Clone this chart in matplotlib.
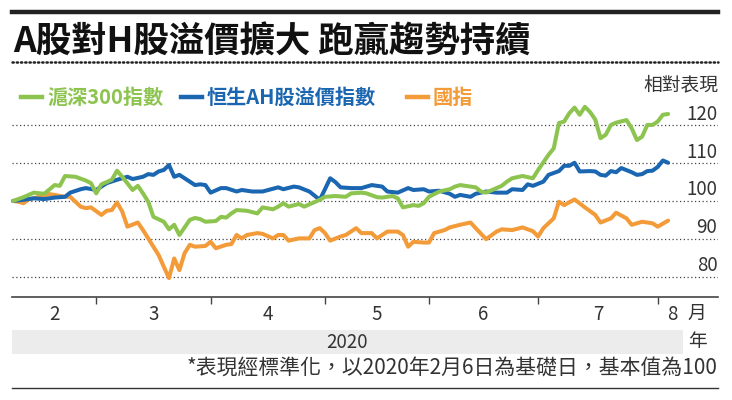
import matplotlib
matplotlib.use('Agg')
import matplotlib.pyplot as plt
from matplotlib.lines import Line2D
from matplotlib.patches import Rectangle
from matplotlib.transforms import blended_transform_factory

plt.rcParams['font.family'] = ['Noto Sans CJK TC', 'DejaVu Sans']

# data: x = trading-day index counted from 2020-02-06 (base = 100)
csi_day = [0, 2, 4, 6, 8, 9, 10, 12, 14, 15, 16, 17, 19, 20, 21, 23, 24, 25, 26, 27,
           29, 30, 31, 32, 34, 35, 36, 37, 39, 40, 41, 42, 43, 45, 47, 48, 50, 51, 52, 53,
           55, 56, 57, 59, 60, 62, 64, 65, 67, 68, 70, 71, 73, 74, 75, 77, 78, 79, 80, 82,
           84, 85, 86, 88, 89, 90, 91, 93, 94, 95, 96, 98, 100, 101, 103, 104, 105, 106, 107, 108,
           109, 110, 111, 112, 113, 114, 115, 116, 118, 119, 120, 121, 122, 123, 124, 125, 126]
csi_val = [100.0, 101.0, 102.2, 101.9, 104.2, 104.0, 106.6, 106.4, 105.4, 104.7, 102.0, 104.4, 105.6, 108.0, 106.4, 102.9, 104.0, 102.0, 99.8, 95.8,
           94.5, 92.5, 93.7, 91.0, 95.0, 95.5, 95.2, 94.5, 94.7, 95.8, 95.6, 96.7, 97.6, 97.4, 96.7, 98.3, 97.8, 98.5, 99.4, 98.5,
           99.2, 98.5, 99.1, 100.3, 101.1, 101.3, 101.1, 102.0, 102.2, 102.0, 101.0, 100.9, 101.3, 100.7, 98.3, 98.9, 98.7, 99.4, 101.1, 102.5,
           103.1, 103.8, 104.2, 103.8, 103.6, 102.5, 102.2, 103.4, 104.0, 105.1, 106.0, 106.6, 106.0, 108.2, 112.2, 113.9, 120.6, 121.0, 123.2, 124.7,
           122.8, 124.9, 123.5, 121.5, 116.6, 117.5, 120.1, 120.7, 121.4, 119.2, 116.1, 117.0, 120.1, 120.1, 121.0, 122.8, 123.0]

ah_day = [0, 2, 4, 6, 8, 10, 11, 13, 14, 16, 17, 18, 20, 22, 23, 25, 26, 27, 28, 29,
          30, 31, 32, 33, 35, 36, 37, 38, 40, 41, 43, 44, 46, 48, 51, 52, 54, 55, 57, 59,
          60, 61, 62, 63, 65, 67, 68, 69, 71, 72, 74, 76, 77, 79, 80, 82, 84, 85, 86, 88,
          89, 91, 93, 95, 96, 98, 99, 100, 102, 103, 105, 106, 107, 108, 109, 111, 112, 113, 114, 115,
          116, 117, 119, 120, 121, 122, 123, 124, 125, 126]
ah_val = [100.0, 100.3, 100.7, 100.5, 100.9, 101.1, 102.2, 103.1, 103.4, 102.9, 103.8, 104.7, 105.6, 106.4, 105.8, 106.4, 107.1, 106.9, 107.8, 108.2,
          109.5, 106.4, 106.9, 106.0, 104.2, 104.4, 104.2, 102.2, 103.4, 103.4, 102.5, 102.9, 102.5, 102.5, 103.6, 103.1, 103.8, 103.6, 102.5, 100.3,
          103.1, 106.0, 105.0, 103.6, 103.4, 103.4, 103.8, 104.2, 103.8, 102.5, 102.2, 103.4, 102.9, 103.1, 102.5, 102.7, 101.9, 101.1, 101.6, 101.1,
          101.9, 102.5, 102.2, 102.2, 103.1, 102.9, 104.4, 104.0, 105.1, 106.9, 107.9, 109.3, 109.3, 110.1, 107.8, 107.9, 107.8, 106.9, 106.7, 107.9,
          107.6, 108.7, 107.6, 106.9, 107.1, 107.9, 108.0, 109.0, 110.7, 110.1]

hsce_day = [0, 1, 2, 3, 5, 7, 8, 10, 11, 12, 13, 14, 15, 17, 18, 19, 20, 21, 22, 24,
            25, 26, 27, 28, 29, 30, 31, 32, 33, 34, 35, 37, 38, 39, 41, 42, 43, 44, 45, 47,
            48, 50, 51, 52, 53, 55, 57, 58, 59, 60, 61, 63, 64, 65, 66, 67, 69, 70, 72, 74,
            75, 76, 77, 79, 80, 81, 83, 84, 86, 88, 89, 91, 93, 94, 96, 98, 100, 101, 102, 104,
            105, 106, 108, 110, 112, 113, 115, 116, 118, 119, 121, 123, 124, 126]
hsce_val = [100.0, 99.8, 99.4, 100.4, 101.1, 101.8, 101.6, 101.1, 101.1, 99.8, 98.5, 98.1, 98.3, 96.3, 97.4, 97.6, 99.6, 97.2, 93.2, 94.3,
            92.3, 90.1, 87.9, 85.7, 82.6, 79.6, 84.8, 81.7, 86.2, 88.4, 87.9, 88.1, 89.2, 87.5, 88.4, 88.6, 91.0, 90.1, 91.0, 91.5,
            91.3, 90.1, 91.0, 91.0, 89.5, 90.1, 90.1, 92.3, 92.8, 91.5, 89.5, 90.6, 91.0, 91.9, 92.8, 91.5, 91.5, 90.1, 91.9, 91.9,
            91.0, 87.9, 89.2, 89.0, 89.0, 91.5, 92.3, 93.0, 93.7, 94.3, 92.8, 89.9, 91.9, 92.5, 92.3, 93.0, 92.0, 90.6, 92.8, 95.4,
            99.8, 98.9, 100.4, 98.3, 96.3, 94.3, 95.4, 96.9, 95.4, 93.7, 94.5, 94.1, 93.2, 94.8]

series_names = ['滬深300指數', '恒生AH股溢價指數', '國指']
series_colors = ['#8dc450', '#1b66b1', '#f39b38']

month_start_day = [16, 38, 60, 80, 101, 124]
month_labels = ['2', '3', '4', '5', '6', '7', '8']
y_ticks = [80, 90, 100, 110, 120]

title = 'A股對H股溢價擴大 跑贏趨勢持續'
footnote = '*表現經標準化，以2020年2月6日為基礎日，基本值為100'

W, H = 732, 400
def fx(px):
    return px / W
def fy(py):
    return 1 - py / H

fig = plt.figure(figsize=(7.32, 4.0), dpi=100)
ax = fig.add_axes([fx(12), fy(297), fx(718) - fx(12), fy(100) - fy(297)])
ax.set_xlim(-0.2, 135.6)
ax.set_ylim(74.6, 126.7)

# gridlines
ax.set_yticks(y_ticks)
ax.tick_params(axis='y', length=0, labelleft=False)
ax.grid(axis='y', linestyle=(0, (1, 2)), color='#444444', linewidth=0.9)
for s in ['top', 'left', 'right']:
    ax.spines[s].set_visible(False)
ax.spines['bottom'].set_color('#444444')
ax.spines['bottom'].set_linewidth(1.2)

trans = blended_transform_factory(ax.transAxes, ax.transData)
for v in y_ticks:
    ax.text(0.999, v + 2.9, str(v), transform=trans, ha='right', va='center',
            fontsize=13.5, color='#333333')

# month ticks
ax.set_xticks(month_start_day, minor=True)
mids = [(a + b) / 2 for a, b in zip([0] + month_start_day[:-1], month_start_day)]
mids.append(month_start_day[-1] + 2.9)
ax.set_xticks(mids)
ax.set_xticklabels(month_labels)
ax.tick_params(axis='x', which='major', length=0, pad=5, labelsize=13.5, labelcolor='#333333')
ax.tick_params(axis='x', which='minor', length=5, width=1, color='#444444', direction='out')

lines = [(hsce_day, hsce_val, 2), (ah_day, ah_val, 1), (csi_day, csi_val, 0)]
for d, v, i in lines:
    ax.plot(d, v, color=series_colors[i], linewidth=2.9, solid_joinstyle='round',
            solid_capstyle='round', clip_on=False)

# header
fig.add_artist(Line2D([fx(12), fx(718)], [fy(12), fy(12)], color='#222222', linewidth=3.2))
fig.text(fx(13), fy(42), title, fontsize=25.5, fontweight='bold', va='center', color='#111111')
fig.add_artist(Line2D([fx(12), fx(718)], [fy(62), fy(62)], color='#222222', linewidth=1.8,
                      linestyle=(0, (0.5, 1.2)), dash_capstyle='round'))

# legend
leg_x = [21, 181, 407]
for i, name in enumerate(series_names):
    x0 = leg_x[i]
    fig.add_artist(Line2D([fx(x0), fx(x0 + 21)], [fy(97), fy(97)], color=series_colors[i], linewidth=3.2))
    fig.text(fx(x0 + 26), fy(97), name, fontsize=14.5, fontweight='bold', color=series_colors[i],
             va='center', ha='left')

fig.text(fx(718), fy(85), '相對表現', fontsize=13.5, color='#333333', ha='right', va='center')

# bottom
fig.text(fx(697), fy(313), '月', fontsize=13.5, color='#333333', ha='center', va='center')
fig.add_artist(Rectangle((fx(12), fy(354)), fx(683) - fx(12), fy(330) - fy(354),
                         transform=fig.transFigure, facecolor='#ececec', edgecolor='none'))
fig.text(fx(347), fy(342), '2020', fontsize=13.5, color='#333333', ha='center', va='center')
fig.text(fx(697), fy(342), '年', fontsize=13.5, color='#333333', ha='center', va='center')
fig.text(fx(718), fy(369), footnote, fontsize=15, color='#333333', ha='right', va='center')
fig.add_artist(Line2D([fx(12), fx(718)], [fy(388), fy(388)], color='#333333', linewidth=1))

fig.savefig('out.png', dpi=100)
